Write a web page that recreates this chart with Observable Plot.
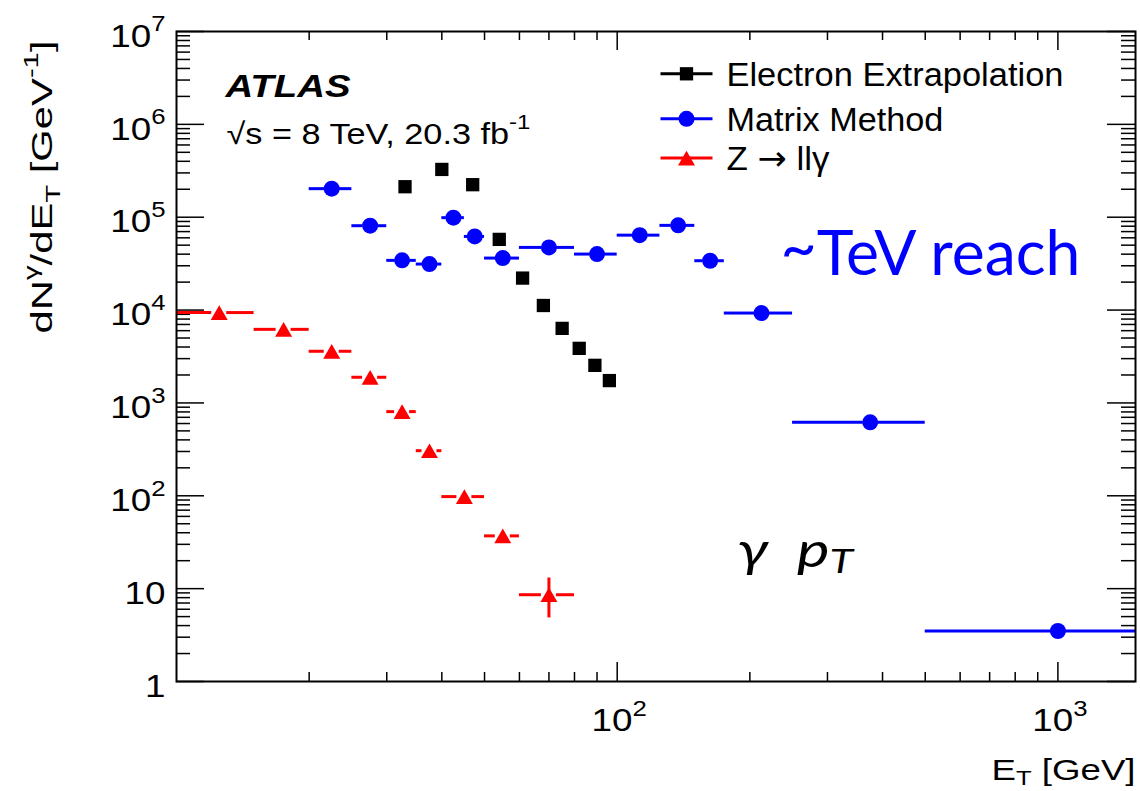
<!DOCTYPE html>
<html>
<head>
<meta charset="utf-8">
<script src="https://cdn.jsdelivr.net/npm/d3@7"></script>
<script src="https://cdn.jsdelivr.net/npm/@observablehq/plot@0.6"></script>
<style>
  html, body { margin: 0; padding: 0; background: #fff; }
  svg { display: block; }
</style>
</head>
<body>
<div id="chart"></div>
<script>
// ---------------- Data ----------------
// Z -> ll gamma (red triangles)
const zBinLow  = [10, 15, 20, 25, 30, 35, 40, 50, 60];
const zBinHigh = [15, 20, 25, 30, 35, 40, 50, 60, 80];
const zEt      = [12.5, 17.5, 22.5, 27.5, 32.5, 37.5, 45, 55, 70];
const zDensity = [9400, 6200, 3600, 1890, 806, 306, 98, 37, 8.6];
// visible vertical error bar (last Z point only)
const zErrEt   = [70];
const zErrVal  = [8.6];
const zErrLow  = [5.9];
const zErrHigh = [11.5];

// Matrix Method (blue circles)
const mmBinLow  = [20, 25, 30, 35, 40, 45, 50, 60, 80, 100, 125, 150, 175, 250, 500];
const mmBinHigh = [25, 30, 35, 40, 45, 50, 60, 80, 100, 125, 150, 175, 250, 500, 1500];
const mmEt      = [22.5, 27.5, 32.5, 37.5, 42.5, 47.5, 55, 70, 90, 112.5, 137.5, 162.5, 212.5, 375, 1000];
const mmDensity = [203000, 81000, 34300, 31300, 98900, 62100, 36300, 47300, 40100, 64100, 81700, 34000, 9290, 618, 3.5];

// Electron Extrapolation (black squares)
const eeEt      = [33, 40, 47, 54, 61, 68, 75, 82, 89, 96];
const eeDensity = [213000, 327000, 224000, 57700, 22100, 11200, 6350, 3870, 2540, 1740];

// Axis tick labels
const yTickValues = [1, 10, 1e2, 1e3, 1e4, 1e5, 1e6, 1e7];
const yTickLabels = ["1", "10", "10^{2}", "10^{3}", "10^{4}", "10^{5}", "10^{6}", "10^{7}"];
const xTickValues = [100, 1000];
const xTickLabels = ["10^{2}", "10^{3}"];

// Legend
const legendLabels  = ["Electron Extrapolation", "Matrix Method", "Z → llγ"];
const legendColors  = ["#000000", "#0000ff", "#ff0000"];
const legendSymbols = ["square", "circle", "triangle"];

// Texts
const atlasText  = "ATLAS";
const energyText = "√s = 8 TeV, 20.3 fb^{-1}";
const tevText    = "~TeV reach";
const gammaText  = "γ\u00a0\u00a0p_{T}";
const xTitle     = "E_{T} [GeV]";
const yTitle     = "dN^{γ}/dE_{T} [GeV^{-1}]";

// ---------------- Build rows ----------------
const blue = "#0000ff", red = "#ff0000";
const zRows  = zEt.map((x, i) => ({x, y: zDensity[i], lo: zBinLow[i], hi: zBinHigh[i]}));
const mmRows = mmEt.map((x, i) => ({x, y: mmDensity[i], lo: mmBinLow[i], hi: mmBinHigh[i]}));
const eeRows = eeEt.map((x, i) => ({x, y: eeDensity[i]}));
const zErrRows = zErrEt.map((x, i) => ({x, y: zErrVal[i], lo: zErrLow[i], hi: zErrHigh[i]}));

const xMajor = [100, 1000];
const xMinor = [10, 100, 1000].flatMap(d => d3.range(2, 10).map(k => k * d)).filter(v => v < 1500);
const yMinor = [1, 10, 1e2, 1e3, 1e4, 1e5, 1e6].flatMap(d => d3.range(2, 10).map(k => k * d));

const WIDTH = 1140, HEIGHT = 791;
const ML = 176, MR = 5, MT = 31, MB = 110;
const FW = WIDTH - ML - MR, FH = HEIGHT - MT - MB;

const lineSymbol = {
  draw(ctx, size) { const h = Math.sqrt(size / Math.PI); ctx.moveTo(-h, 0); ctx.lineTo(h, 0); }
};

const symMark = {square: {r: 7.5, dy: 0}, circle: {r: 8, dy: 0}, triangle: {r: 6.3, dy: 2.5}};
const legendRowY = [42.3, 87.3, 126.5];
const legendTextY = [43.8, 88.8, 127.8];

const legendMarks = legendLabels.flatMap((label, i) => [
  Plot.dot([0], {frameAnchor: "top-left", dx: 510, dy: legendRowY[i], symbol: lineSymbol, r: 26,
                 fill: "none", stroke: legendColors[i], strokeWidth: 3}),
  Plot.dot([0], {frameAnchor: "top-left", dx: 510, dy: legendRowY[i] + symMark[legendSymbols[i]].dy,
                 symbol: legendSymbols[i], r: symMark[legendSymbols[i]].r, fill: legendColors[i], stroke: "none"}),
  Plot.text([label], {text: d => d, frameAnchor: "top-left", textAnchor: "start", lineAnchor: "middle",
                      dx: 550, dy: legendTextY[i], fontSize: 34})
]);

const plot = Plot.plot({
  width: WIDTH, height: HEIGHT,
  marginLeft: ML, marginRight: MR, marginTop: MT, marginBottom: MB,
  x: {type: "log", domain: [10, 1500], axis: null},
  y: {type: "log", domain: [1, 1e7], axis: null},
  style: {fontFamily: "'Liberation Sans', Arial, Helvetica, sans-serif", background: "#fff", color: "#000"},
  marks: [
    // ticks (inside the frame, on all four sides)
    Plot.tickX(xMinor, {x: d => d, insetTop: FH - 9, stroke: "#000", strokeWidth: 1.5}),
    Plot.tickX(xMinor, {x: d => d, insetBottom: FH - 9, stroke: "#000", strokeWidth: 1.5}),
    Plot.tickX(xMajor, {x: d => d, insetTop: FH - 19, stroke: "#000", strokeWidth: 1.5}),
    Plot.tickX(xMajor, {x: d => d, insetBottom: FH - 19, stroke: "#000", strokeWidth: 1.5}),
    Plot.tickY(yMinor, {y: d => d, insetRight: FW - 14, stroke: "#000", strokeWidth: 1.5}),
    Plot.tickY(yMinor, {y: d => d, insetLeft: FW - 14, stroke: "#000", strokeWidth: 1.5}),
    Plot.tickY(yTickValues, {y: d => d, insetRight: FW - 28, stroke: "#000", strokeWidth: 1.5}),
    Plot.tickY(yTickValues, {y: d => d, insetLeft: FW - 28, stroke: "#000", strokeWidth: 1.5}),

    // tick labels
    Plot.text(yTickValues, {y: d => d, text: (d, i) => yTickLabels[i], frameAnchor: "left",
      textAnchor: "end", lineAnchor: "middle", dx: -11, dy: 5, fontSize: 32}),
    Plot.text(xTickValues, {x: d => d, text: (d, i) => xTickLabels[i], frameAnchor: "bottom",
      textAnchor: "middle", lineAnchor: "top", dx: 2, dy: 27, fontSize: 32}),

    // axis titles
    Plot.text([xTitle], {text: d => d, frameAnchor: "bottom-right", textAnchor: "end",
      lineAnchor: "middle", dy: 88.5, fontSize: 30}),
    Plot.text([yTitle], {text: d => d, frameAnchor: "top-left", textAnchor: "end",
      lineAnchor: "middle", rotate: -90, dx: 42.4 - ML, dy: 40 - MT, fontSize: 29}),

    // Matrix Method
    Plot.ruleY(mmRows, {y: "y", x1: "lo", x2: "x", stroke: blue, strokeWidth: 3, insetRight: 7}),
    Plot.ruleY(mmRows, {y: "y", x1: "x", x2: "hi", stroke: blue, strokeWidth: 3, insetLeft: 7}),
    Plot.dot(mmRows, {x: "x", y: "y", symbol: "circle", r: 8, fill: blue, stroke: "none"}),

    // Z -> ll gamma
    Plot.ruleY(zRows, {y: "y", x1: "lo", x2: "x", stroke: red, strokeWidth: 3, insetRight: 7.5}),
    Plot.ruleY(zRows, {y: "y", x1: "x", x2: "hi", stroke: red, strokeWidth: 3, insetLeft: 7.5}),
    Plot.ruleX(zErrRows, {x: "x", y1: "lo", y2: "y", stroke: red, strokeWidth: 3, insetTop: 8}),
    Plot.ruleX(zErrRows, {x: "x", y1: "y", y2: "hi", stroke: red, strokeWidth: 3, insetBottom: 5}),
    Plot.dot(zRows, {x: "x", y: "y", symbol: "triangle", r: 6.3, dy: 2.5, fill: red, stroke: "none"}),

    // Electron Extrapolation
    Plot.dot(eeRows, {x: "x", y: "y", symbol: "square", r: 7.5, fill: "#000", stroke: "none"}),

    // annotations
    Plot.text([atlasText], {text: d => d, frameAnchor: "top-left", textAnchor: "start", lineAnchor: "middle",
      dx: 49, dy: 55.8, fontSize: 31, fontWeight: "bold", fontStyle: "italic"}),
    Plot.text([energyText], {text: d => d, frameAnchor: "top-left", textAnchor: "start",
      lineAnchor: "middle", dx: 50, dy: 102.7, fontSize: 30}),
    Plot.text([tevText], {text: d => d, frameAnchor: "top-left", textAnchor: "start", lineAnchor: "middle",
      dx: 604, dy: 223.5, fontSize: 61, fill: blue, fontFamily: "Lato, 'Open Sans', sans-serif"}),
    Plot.text([gammaText], {text: d => d, frameAnchor: "top-left", textAnchor: "start", lineAnchor: "middle",
      dx: 560.7, dy: 520.6, fontSize: 48, fontStyle: "italic", fontFamily: "Lato, 'Open Sans', sans-serif"}),

    ...legendMarks,

    Plot.frame({stroke: "#000", strokeWidth: 2})
  ]
});

document.getElementById("chart").append(plot);

// ---------------- Rich text (super/subscripts) and horizontal fitting ----------------
const NS = "http://www.w3.org/2000/svg";
const svg = d3.select(plot);
svg.selectAll("text").each(function() { this.setAttribute("data-key", this.textContent); });

function addTspan(el, txt, attrs) {
  const t = document.createElementNS(NS, "tspan");
  t.textContent = txt;
  for (const k in attrs) if (attrs[k] != null && attrs[k] !== 0) t.setAttribute(k, attrs[k]);
  el.appendChild(t);
}
function richify(el, supShift, subShift) {
  const s = el.textContent;
  if (!/[\^_]\{/.test(s)) return;
  const fs = parseFloat(getComputedStyle(el).fontSize);
  el.textContent = "";
  const re = /([\^_])\{([^}]*)\}/g;
  let last = 0, m, offset = 0;
  while ((m = re.exec(s))) {
    if (m.index > last) { addTspan(el, s.slice(last, m.index), {dy: -offset}); offset = 0; }
    const shift = m[1] === "^" ? -supShift * fs : subShift * fs;
    addTspan(el, m[2], {"font-size": 0.7 * fs, dy: shift - offset});
    offset = shift;
    last = re.lastIndex;
  }
  if (last < s.length) { addTspan(el, s.slice(last), {dy: -offset}); offset = 0; }
}
function scaleText(el, sx) {
  const tr = el.getAttribute("transform") || "";
  const x = parseFloat(el.getAttribute("x")) || 0;
  el.setAttribute("transform", `${tr} translate(${x},0) scale(${sx},1) translate(${-x},0)`);
}

const fitTargets = new Map([
  [atlasText, 126.7], [energyText, 304], [tevText, 300], [gammaText, 118],
  [xTitle, 144], [yTitle, 293],
  [legendLabels[0], 337], [legendLabels[1], 217], [legendLabels[2], 103]
]);
const tickSet = new Set([...yTickLabels, ...xTickLabels]);

svg.selectAll("text").each(function() {
  const key = this.getAttribute("data-key");
  if (key === gammaText) richify(this, 0.48, 0.12);
  else if (key === xTitle) richify(this, 0.48, 0.18);
  else if (key === tevText) {
    this.textContent = "";
    addTspan(this, "~", {dy: -6});
    addTspan(this, "TeV reach", {dy: 6});
  } else if (key === legendLabels[2]) {
    this.textContent = "";
    addTspan(this, "Z ", {});
    addTspan(this, "→", {"font-family": "'DejaVu Sans', sans-serif"});
    addTspan(this, " llγ", {});
  } else richify(this, 0.48, 0.27);
});
svg.selectAll("text").each(function() {
  const key = this.getAttribute("data-key");
  if (fitTargets.has(key)) {
    const w = this.getBBox().width;
    if (w > 0) scaleText(this, fitTargets.get(key) / w);
  } else if (tickSet.has(key)) {
    scaleText(this, 1.15);
  }
});
</script>
</body>
</html>
